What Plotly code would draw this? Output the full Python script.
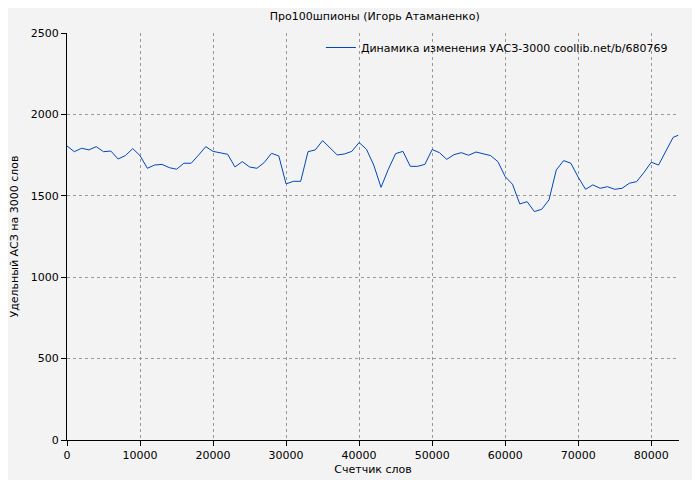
import plotly.graph_objects as go

x_words = list(range(0, 84000, 1000)) + [83700]
y_vals = [1806, 1771, 1792, 1782, 1802, 1771, 1775, 1726, 1747, 1790,
          1747, 1669, 1689, 1693, 1673, 1663, 1700, 1700, 1749, 1802,
          1773, 1763, 1755, 1677, 1710, 1677, 1669, 1704, 1761, 1745,
          1573, 1589, 1589, 1771, 1782, 1839, 1798, 1751, 1757, 1773,
          1827, 1786, 1689, 1552, 1663, 1759, 1773, 1681, 1681, 1693,
          1784, 1765, 1724, 1753, 1765, 1749, 1769, 1757, 1747, 1710,
          1618, 1571, 1450, 1464, 1403, 1417, 1475, 1659, 1716, 1700,
          1614, 1540, 1567, 1546, 1556, 1540, 1546, 1577, 1587, 1643,
          1706, 1689, 1771, 1859, 1872]

fig = go.Figure(go.Scatter(x=x_words, y=y_vals, mode="lines",
                           line=dict(color="#0047ba", width=1),
                           name="Динамика изменения УАСЗ-3000 coollib.net/b/680769"))
ax = dict(showline=True, linecolor="black", linewidth=1, ticks="outside", ticklen=5,
          tickcolor="black", showgrid=True, gridcolor="#999", griddash="dot",
          zeroline=False, mirror=False, automargin=False, tickfont=dict(size=11))
fig.update_layout(
    width=692, height=472, paper_bgcolor="#f3f3f3", plot_bgcolor="#f3f3f3",
    font=dict(family="DejaVu Sans", size=11, color="black"),
    title=dict(text="Про100шпионы (Игорь Атаманенко)", x=0.53, y=0.99, yanchor="top",
               font=dict(size=11)),
    margin=dict(l=59, r=21, t=25, b=40),
    showlegend=True,
    legend=dict(x=0.99, y=1.0, xanchor="right", yanchor="top", bgcolor="rgba(0,0,0,0)",
                font=dict(size=11)),
    xaxis=dict(ax, range=[0, 83800], dtick=10000, tickformat="d",
               title=dict(text="Счетчик слов", standoff=4, font=dict(size=11))),
    yaxis=dict(ax, range=[0, 2500], dtick=500, tickformat="d",
               title=dict(text="Удельный АСЗ на 3000 слов", standoff=14, font=dict(size=11))),
)
fig.write_html("out.html")
